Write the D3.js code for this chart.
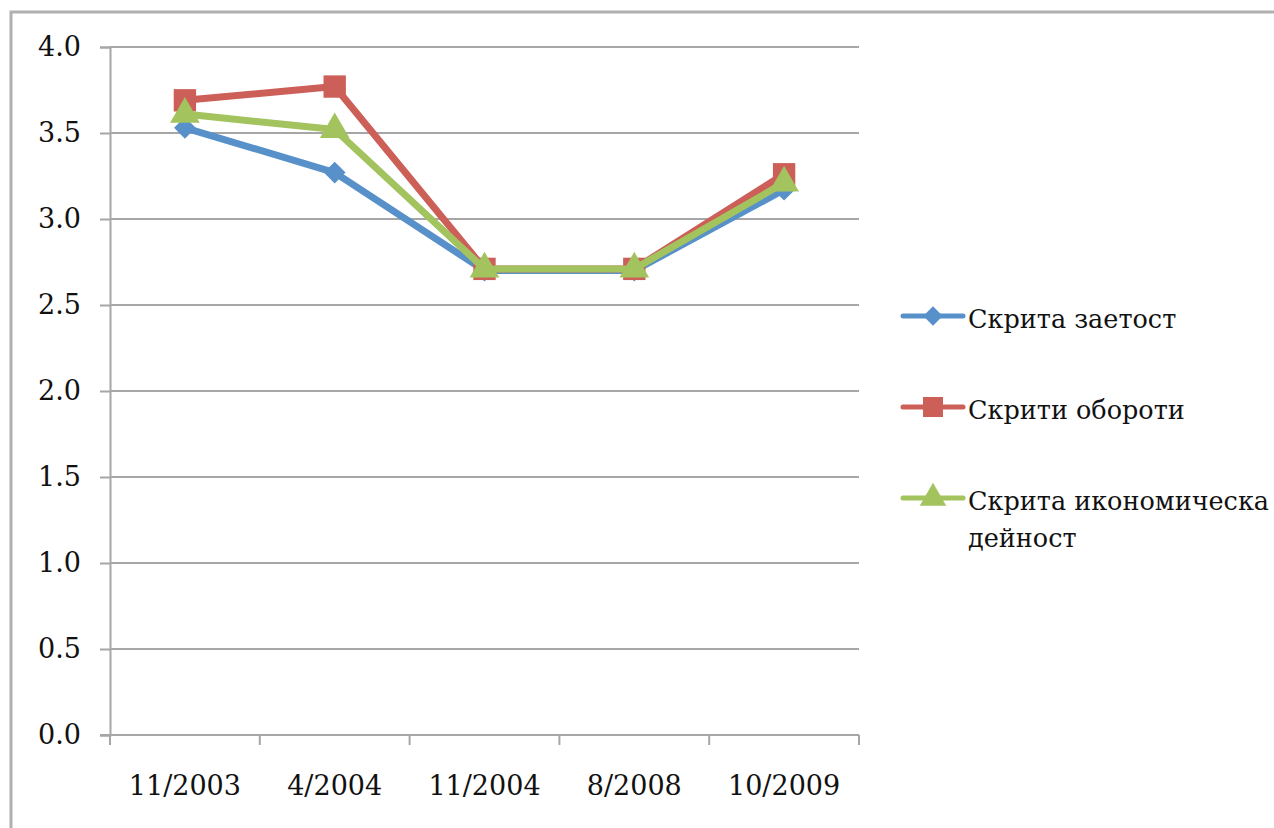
<!DOCTYPE html>
<html>
<head>
<meta charset="utf-8">
<script src="https://cdn.jsdelivr.net/npm/d3@7"></script>
<style>
  body { margin: 0; background: #fff; }
  svg text { font-family: "DejaVu Serif", serif; fill: #111; }
</style>
</head>
<body>
<svg id="chart" width="1274" height="828"></svg>
<script>
// data
var categories = ['11/2003', '4/2004', '11/2004', '8/2008', '10/2009'];
var hiddenEmployment = [3.53, 3.27, 2.70, 2.70, 3.17];
var hiddenTurnover = [3.69, 3.77, 2.71, 2.71, 3.26];
var hiddenActivity = [3.61, 3.52, 2.71, 2.71, 3.21];
var seriesNames = ['Скрита заетост', 'Скрити обороти', 'Скрита икономическа дейност'];
var yTicks = [0, 0.5, 1, 1.5, 2, 2.5, 3, 3.5, 4];

var series = [
  { name: [seriesNames[0]], values: hiddenEmployment, color: '#5890c9', symbol: d3.symbolDiamond2, size: 300 },
  { name: [seriesNames[1]], values: hiddenTurnover, color: '#cc5f57', symbol: d3.symbolSquare, size: 500 },
  { name: ['Скрита икономическа', 'дейност'], values: hiddenActivity, color: '#a2c35e', symbol: d3.symbolTriangle, size: 380 }
];

var svg = d3.select('#chart');
var plotLeft = 110, plotRight = 859, plotTop = 47, plotBottom = 735;
var grey = '#a6a6a6';

// outer frame
svg.append('path')
  .attr('d', 'M11,830 L11,12 L1276,12')
  .attr('fill', 'none')
  .attr('stroke', '#b0b0b0')
  .attr('stroke-width', 3);

var x = d3.scaleBand().domain(categories).range([plotLeft, plotRight]);
var y = d3.scaleLinear().domain([0, 4]).range([plotBottom, plotTop]);

// gridlines + y axis
svg.append('g').selectAll('line')
  .data(yTicks.filter(function (d) { return d > 0; }))
  .enter().append('line')
  .attr('x1', plotLeft).attr('x2', plotRight)
  .attr('y1', function (d) { return y(d); })
  .attr('y2', function (d) { return y(d); })
  .attr('stroke', grey).attr('stroke-width', 2);

var yAxis = d3.axisLeft(y).tickValues(yTicks).tickFormat(d3.format('.1f')).tickSize(10).tickPadding(19);
var gy = svg.append('g').attr('transform', 'translate(' + plotLeft + ',0)').call(yAxis);
gy.select('.domain').attr('stroke', grey).attr('stroke-width', 2);
gy.selectAll('.tick line').attr('stroke', grey).attr('stroke-width', 2);
gy.selectAll('.tick text').attr('font-size', 27).style('font-family', '"DejaVu Serif", serif').attr('fill', '#111');

// x axis, ticks between categories
var gx = svg.append('g').attr('transform', 'translate(0,' + plotBottom + ')');
gx.append('line').attr('x1', plotLeft - 10).attr('x2', plotRight).attr('stroke', grey).attr('stroke-width', 2);
var bounds = categories.map(function (c) { return x(c); }).concat([plotRight]);
gx.selectAll('.tk').data(bounds).enter().append('line')
  .attr('x1', function (d) { return d; }).attr('x2', function (d) { return d; })
  .attr('y1', 0).attr('y2', 10)
  .attr('stroke', grey).attr('stroke-width', 2);
gx.selectAll('text').data(categories).enter().append('text')
  .attr('x', function (d) { return x(d) + x.bandwidth() / 2; })
  .attr('y', 60)
  .attr('text-anchor', 'middle')
  .attr('font-size', 27)
  .text(function (d) { return d; });

// lines and markers
var line = d3.line()
  .x(function (d, i) { return x(categories[i]) + x.bandwidth() / 2; })
  .y(function (d) { return y(d); });

series.forEach(function (s) {
  var g = svg.append('g');
  g.append('path')
    .attr('d', line(s.values))
    .attr('fill', 'none')
    .attr('stroke', s.color)
    .attr('stroke-width', 7)
    .attr('stroke-linejoin', 'round');
  g.selectAll('path.m').data(s.values).enter().append('path')
    .attr('class', 'm')
    .attr('d', d3.symbol().type(s.symbol).size(s.size))
    .attr('transform', function (d, i) {
      return 'translate(' + (x(categories[i]) + x.bandwidth() / 2) + ',' + y(d) + ')';
    })
    .attr('fill', s.color);
});

// legend
var legendY = [316, 407, 498];
series.forEach(function (s, i) {
  var g = svg.append('g').attr('transform', 'translate(903,' + legendY[i] + ')');
  g.append('line').attr('x1', 0).attr('x2', 60)
    .attr('stroke', s.color).attr('stroke-width', 5).attr('stroke-linecap', 'round');
  g.append('path')
    .attr('d', d3.symbol().type(s.symbol).size(s.size * 0.8))
    .attr('transform', 'translate(30,0)')
    .attr('fill', s.color);
  var t = g.append('text').attr('x', 65).attr('y', 12).attr('font-size', 25.5);
  s.name.forEach(function (part, j) {
    t.append('tspan').attr('x', 65).attr('dy', j === 0 ? 0 : 37).text(part);
  });
});
</script>
</body>
</html>
